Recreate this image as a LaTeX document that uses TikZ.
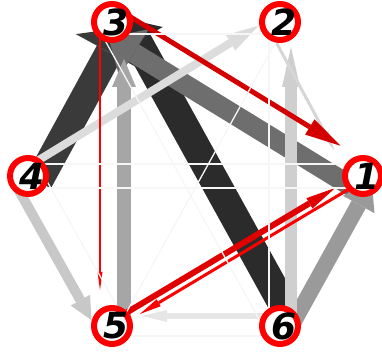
\documentclass[tikz,border=0pt]{standalone}
\usepackage{fontspec}
\newfontfamily\numfont{DejaVu Sans}
\usetikzlibrary{calc}
\definecolor{nred}{HTML}{FF0000}
\definecolor{rdark}{HTML}{D40000}
\definecolor{rmid}{HTML}{E00000}
\definecolor{gA}{HTML}{2B2B2B}
\definecolor{gB}{HTML}{3A3A3A}
\definecolor{gC}{HTML}{6E6E6E}
\definecolor{gD}{HTML}{9A9A9A}
\definecolor{gE}{HTML}{A6A6A6}
\definecolor{gF}{HTML}{C8C8C8}
\definecolor{gG}{HTML}{CFCFCF}
\definecolor{gH}{HTML}{DCDCDC}
\definecolor{gI}{HTML}{D6D6D6}
\definecolor{gJ}{HTML}{E6E6E6}
\definecolor{faintc}{HTML}{F6F6F6}
\tikzset{
  vtx/.style={circle, draw=nred, fill=white, line width=6pt, minimum size=36pt, inner sep=0pt},
  num/.style={font=\numfont\bfseries\itshape\fontsize{36}{36}\selectfont, inner sep=0pt, xshift=4pt},
  faint/.style={draw=faintc, line width=1.3pt},
}
% src tgt offset width colour tipdist headlen headhalfwidth
\newcommand\edg[8]{%
  \coordinate (eS) at ($(#1)!#3pt!-90:(#2)$);
  \coordinate (eT) at ($(#2)!#3pt!90:(#1)$);
  \coordinate (eP) at ($(eT)!#6pt!(eS)$);
  \coordinate (eB) at ($(eT)!#6pt+#7pt!(eS)$);
  \coordinate (eL) at ($(eB)!#8pt!90:(eP)$);
  \coordinate (eR) at ($(eB)!#8pt!-90:(eP)$);
  \draw[line width=#4pt, draw=#5] (eS) -- (eB);
  \fill[#5] (eP) -- (eL) -- (eR) -- cycle;
}
\newcommand\fedg[3]{%
  \draw[faint] ($(#1)!#3pt!-90:(#2)$) -- ($(#2)!#3pt!90:(#1)$);
}
\begin{document}
\begin{tikzpicture}[x=1pt,y=1pt]
\useasboundingbox (0,0) rectangle (382,358);
\coordinate (n3) at (112,336);
\coordinate (n2) at (280,336);
\coordinate (n4) at (28,182);
\coordinate (n1) at (363,182);
\coordinate (n5) at (112,32);
\coordinate (n6) at (280,32);
% weighted edges
\edg{n6}{n3}{13}{29}{gA}{3}{26}{29}
\edg{n4}{n3}{12}{28}{gB}{0}{28}{38}
\edg{n1}{n3}{-15}{20}{gC}{5}{30}{28}
\edg{n6}{n1}{10}{16}{gD}{0}{27}{18}
\edg{n5}{n3}{12}{14}{gE}{37}{28}{12}
\edg{n4}{n5}{15}{10}{gF}{15}{23}{11}
\edg{n6}{n2}{11}{12}{gG}{25}{40}{9}
\edg{n4}{n2}{-8}{8}{gH}{20}{33}{9}
\edg{n2}{n1}{13}{3}{gI}{36}{20}{4}
\edg{n6}{n5}{10}{6}{gJ}{30}{25}{6}
% red edges
\edg{n3}{n5}{12}{2.5}{nred}{36}{18}{2.5}
\edg{n3}{n1}{-14}{5}{rdark}{35}{36}{9}
\edg{n5}{n1}{-4}{6}{rmid}{30}{30}{6}
\edg{n1}{n5}{-4}{3}{nred}{30}{22}{4}
% faint edges
\fedg{n5}{n6}{10}
\fedg{n5}{n4}{14}
\fedg{n5}{n2}{6}
\fedg{n1}{n4}{12}
\fedg{n4}{n1}{12}
\fedg{n3}{n2}{12}
\fedg{n2}{n6}{11}
\fedg{n3}{n6}{15}
% nodes
\foreach \k in {1,...,6} {
  \node[vtx] (c\k) at (n\k) {};
  \node[num] (t\k) at (n\k) {\k};
}
\end{tikzpicture}
\end{document}
